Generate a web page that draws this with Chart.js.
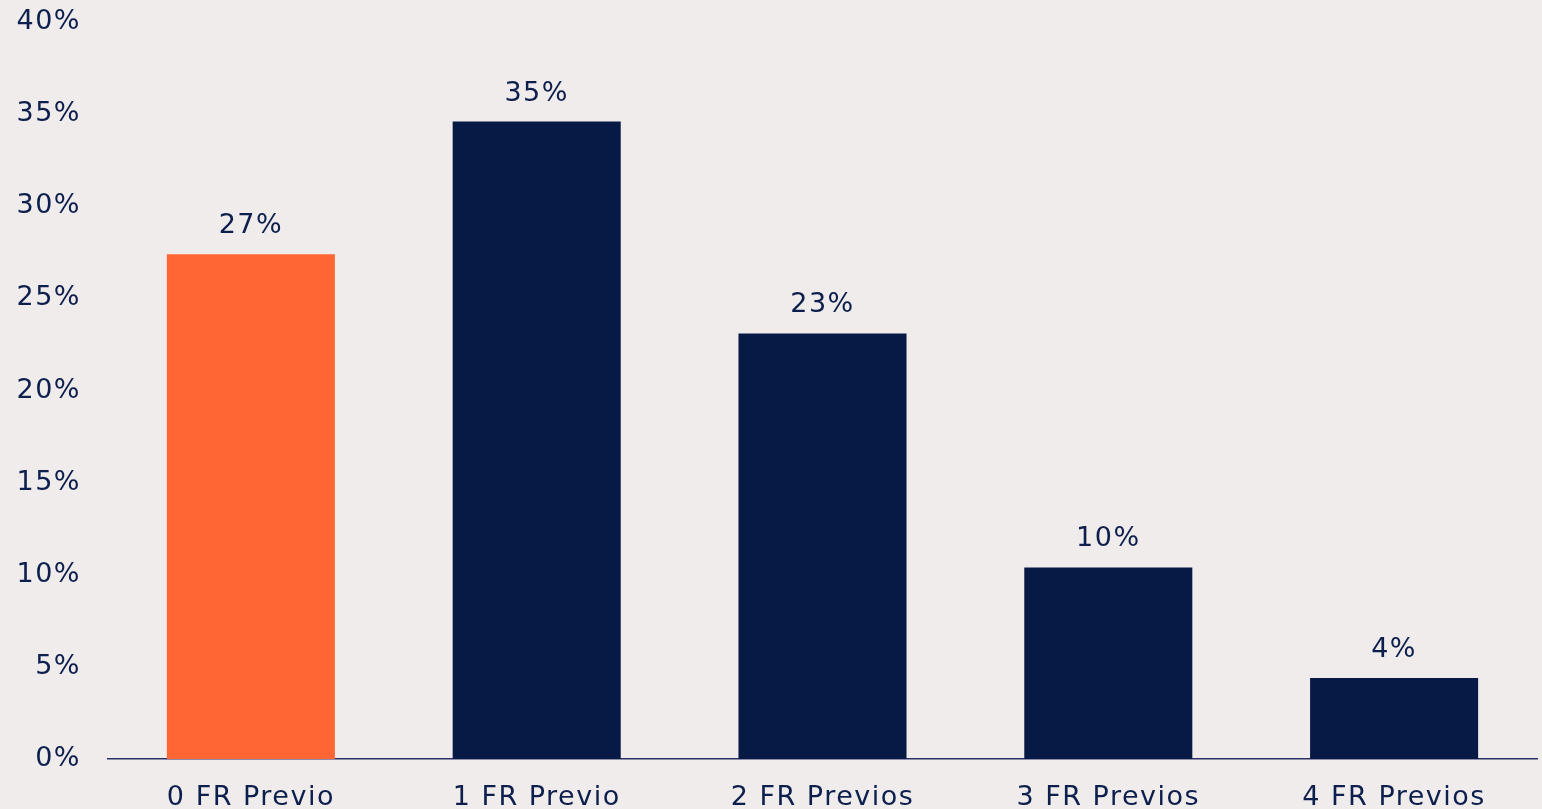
<!DOCTYPE html>
<html>
<head>
<meta charset="utf-8">
<script src="https://cdn.jsdelivr.net/npm/chart.js@4.4.0/dist/chart.umd.min.js"></script>
<style>
  html, body { margin: 0; padding: 0; background: #f0ecec; overflow: hidden; }
  #wrap { position: relative; width: 1542px; height: 809px; }
</style>
</head>
<body>
<div id="wrap"><canvas id="c" width="1542" height="809"></canvas></div>
<script>
const categories = ['0 FR Previo', '1 FR Previo', '2 FR Previos', '3 FR Previos', '4 FR Previos'];
const values = [27.4, 34.6, 23.1, 10.4, 4.4];
const valueLabels = ['27%', '35%', '23%', '10%', '4%'];
const yTicks = [0, 5, 10, 15, 20, 25, 30, 35, 40];

const ORANGE = '#ff6633';
const NAVY = '#071a45';
const TEXT = '#0d1f4d';
const FONT = "'DejaVu Sans', sans-serif";
const SPACING = '1.5px';

const barColors = categories.map((c, i) => i === 0 ? ORANGE : NAVY);

const spacingPlugin = {
  id: 'spacing',
  beforeDraw(chart) { chart.ctx.letterSpacing = SPACING; }
};

const valueLabelPlugin = {
  id: 'valueLabels',
  afterDatasetsDraw(chart) {
    const ctx = chart.ctx;
    const meta = chart.getDatasetMeta(0);
    ctx.save();
    ctx.font = '27px ' + FONT;
    ctx.letterSpacing = SPACING;
    ctx.fillStyle = TEXT;
    ctx.textAlign = 'center';
    ctx.textBaseline = 'middle';
    meta.data.forEach((bar, i) => {
      ctx.fillText(valueLabels[i], bar.x, bar.y - 28);
    });
    ctx.restore();
  }
};

const canvas = document.getElementById('c');

new Chart(canvas, {
  type: 'bar',
  data: {
    labels: categories,
    datasets: [{
      data: values,
      backgroundColor: barColors,
      borderWidth: 0,
      barPercentage: 0.588,
      categoryPercentage: 1.0
    }]
  },
  options: {
    responsive: false,
    animation: false,
    devicePixelRatio: 1,
    layout: { padding: { top: 22, right: 5, left: 0, bottom: 0 } },
    plugins: { legend: { display: false }, tooltip: { enabled: false } },
    scales: {
      x: {
        grid: { display: false, drawTicks: false },
        border: { display: true, color: '#2b2f66', width: 1.5 },
        ticks: { color: TEXT, font: { family: FONT, size: 27 }, padding: 23, maxRotation: 0, autoSkip: false },
        afterFit(scale) { scale.height = 50; scale.paddingLeft = 0; scale.paddingRight = 0; }
      },
      y: {
        min: 0, max: 40,
        afterBuildTicks(scale) { scale.ticks = yTicks.map(v => ({ value: v })); },
        grid: { display: false, drawTicks: false },
        border: { display: false },
        ticks: { color: TEXT, font: { family: FONT, size: 27 }, padding: 27, callback: v => v + '%' },
        afterFit(scale) { scale.width = 108; scale.paddingTop = 0; scale.paddingBottom = 0; }
      }
    }
  },
  plugins: [spacingPlugin, valueLabelPlugin]
});
</script>
</body>
</html>
